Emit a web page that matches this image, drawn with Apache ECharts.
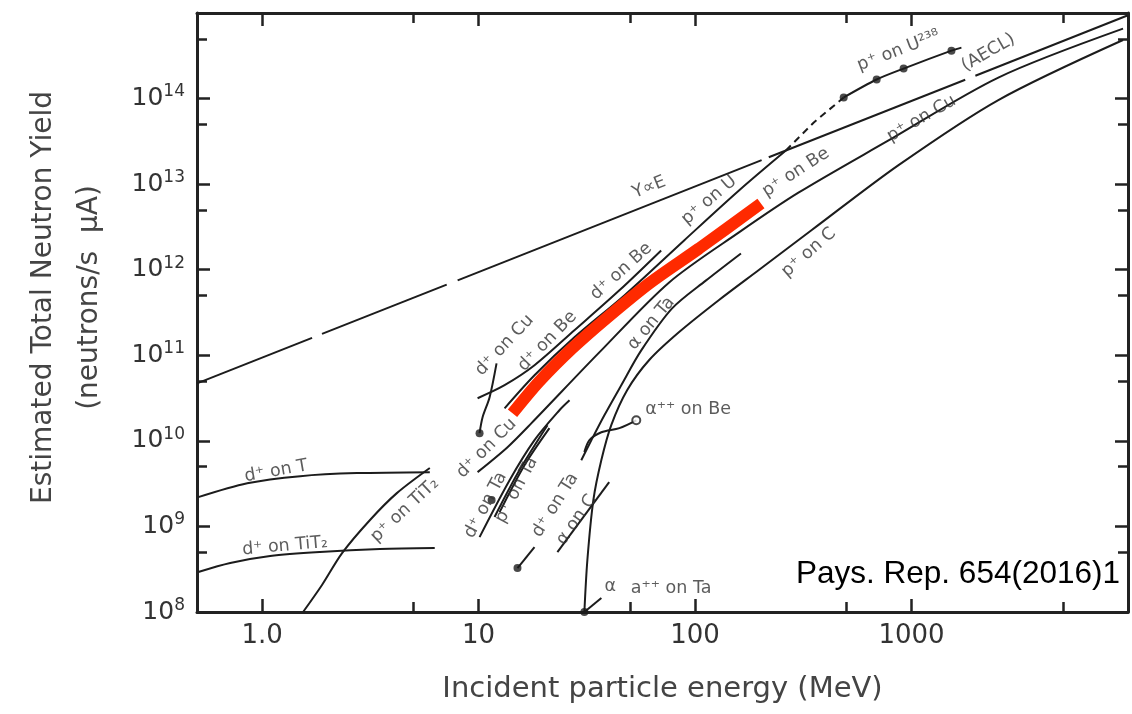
<!DOCTYPE html>
<html>
<head>
<meta charset="utf-8">
<script src="https://cdn.jsdelivr.net/npm/echarts@6/dist/echarts.min.js"></script>
<style>
  html, body { margin: 0; padding: 0; background: #fff; }
  #chart { width: 1132px; height: 714px; }
</style>
</head>
<body>
<div id="chart"></div>
<script>
// x = incident particle energy (MeV), y = neutron yield (n/s per uA)
const xMajor = [1, 10, 100, 1000];
const xTickText = ['1.0', '10', '100', '1000'];
const xMinor = [5, 50, 500, 5000];
const yMajor = [1e8, 1e9, 1e10, 1e11, 1e12, 1e13, 1e14];
const yMinor = [5e8, 5e9, 5e10, 5e11, 5e12, 5e13, 5e14];

const dOnT = [[0.507, 2.2e9], [0.853, 3.2e9], [1.5, 3.87e9], [2.74, 4.2e9], [5.95, 4.31e9]];
const dOnTiT2 = [[0.507, 2.93e8], [0.712, 3.74e8], [1.089, 4.51e8], [1.85, 5.03e8], [3.5, 5.45e8], [6.27, 5.6e8]];
const pOnTiT2 = [[1.545, 1e8], [1.89, 2.07e8], [2.34, 4.88e8], [3.15, 1.19e9], [4.19, 2.45e9], [5.95, 4.82e9]];

// Y proportional to E, drawn as broken pieces like the original
const yPropE = [
  [[0.5, 4.7e10], [1.70, 1.6e11]],
  [[1.89, 1.78e11], [7.12, 6.7e11]],
  [[8.0, 7.5e11], [203, 1.91e13]],
  [[219, 2.06e13], [1770, 1.66e14]],
  [[1972, 1.85e14], [10000, 9.4e14]]
];

const pOnU = [[13.18, 2.4e10], [18.12, 5.84e10], [27.7, 1.62e11], [47.1, 5.01e11], [89, 2.2e12], [159.5, 8.43e12], [262.7, 2.47e13]];
const pOnUDash = [[262.7, 2.47e13], [353.5, 5.25e13], [486, 1.03e14]];
const pOnU238 = [[486, 1.03e14], [690, 1.67e14], [919, 2.24e14], [1529, 3.63e14], [1700, 3.94e14]];
const dOnBe = [[9.89, 3.15e10], [13.18, 4.47e10], [18.12, 7.64e10], [27.7, 1.96e11], [44.7, 5.74e11], [69.7, 1.68e12]];
const dOnCuLow = [[10.1, 1.23e10], [10.43, 1.89e10], [11.24, 3.24e10], [12.1, 8.05e10]];
const pOnBe = [[9.89, 4.31e9], [13.6, 8.43e9], [17.55, 1.61e10], [36.1, 1.08e11], [75.9, 7.11e11], [159.5, 2.73e12], [301.5, 8.0e12], [783, 3.24e13], [2518, 1.76e14], [9485, 6.56e14]];
const dOnTa = [[10.1, 7.5e8], [13.9, 3.47e9], [18.12, 1.02e10], [23.62, 2.28e10], [26.3, 2.98e10]];
const pOnTa = [[11.85, 1.29e9], [15.45, 4.55e9], [20.8, 1.52e10]];
const pOnTa2 = [[12.5, 1.47e9], [16.29, 5.2e9], [21.24, 1.41e10]];
const dOnTaShort = [[15.12, 3.26e8], [18.12, 5.74e8]];
const aOnC = [[23.12, 5.0e8], [40.1, 3.29e9]];
const pOnC = [[30.8, 1e8], [31.8, 4.05e8], [33.9, 2.04e9], [36.9, 5.97e9], [41.0, 1.53e10], [48.6, 3.93e10], [61.4, 8.81e10], [84.4, 1.87e11], [129, 4.43e11], [197, 9.93e11], [346, 2.91e12], [871, 1.67e13], [2518, 9.62e13], [9485, 4.84e14]];
const aOnTa = [[29.8, 5.94e9], [33.2, 1.02e10], [38.1, 1.99e10], [45.6, 4.47e10], [56.4, 1.14e11], [78.3, 3.53e11], [112.4, 7.5e11], [162.9, 1.55e12]];
const aOnBe = [[30.8, 7.38e9], [32.5, 1.02e10], [36.9, 1.26e10], [44.7, 1.41e10], [53.5, 1.74e10]];
const alphaTick = [[30.8, 1e8], [36.9, 1.46e8]];
// red highlight drawn over the figure
const highlight = [[14.34, 2.1e10], [19.1, 4.97e10], [27.12, 1.21e11], [38.9, 2.7e11], [61.4, 6.92e11], [104.3, 1.77e12], [201.5, 5.94e12]];

const dots = [[486, 1.03e14], [690, 1.67e14], [919, 2.24e14], [1529, 3.63e14], [10.1, 1.23e10], [11.48, 2.03e9], [15.12, 3.26e8], [30.8, 1e8]];
const openDots = [[53.5, 1.74e10]];

const labelText = ['Y∝E', 'p⁺ on U', 'p⁺ on Be', 'p⁺ on U²³⁸', '(AECL)', 'p⁺ on Cu', 'p⁺ on C', 'd⁺ on Be', 'd⁺ on Be', 'd⁺ on Cu', 'd⁺ on Cu', 'α on Ta', 'α⁺⁺ on Be', 'd⁺ on Ta', 'p⁺ on Ta', 'd⁺ on Ta', 'α on C', 'α', 'a⁺⁺ on Ta', 'd⁺ on T', 'd⁺ on TiT₂', 'p⁺ on TiT₂'];
const labelAt = [[61.4, 9.14e12], [116, 6.46e12], [292, 1.37e13], [871, 3.63e14], [2264, 3.44e14], [1112, 5.84e13], [335, 1.59e12], [45.6, 9.55e11], [20.8, 1.46e11], [13.18, 1.31e11], [10.89, 8.2e9], [62.7, 2.36e11], [92.8, 2.34e10], [10.77, 1.77e9], [14.96, 2.66e9], [22.6, 1.77e9], [28.3, 1.19e9], [40.6, 2.01e8], [77.5, 1.86e8], [1.16, 4.43e9], [1.276, 5.89e8], [4.56, 1.55e9]];
const labelAngle = [22, 40, 33, 21, 30, 30, 41, 42, 46, 47, 45, 50, 0, 62, 62, 58, 55, 0, 0, 10, 5, 43];

const ink = '#1c1c1c';
const font = 'DejaVu Sans';

function curve(data, extra) {
  return Object.assign({
    type: 'line',
    data: data,
    symbol: 'none',
    smooth: 0.3,
    silent: true,
    lineStyle: { color: ink, width: 2 }
  }, extra || {});
}

const series = [
  curve(dOnT), curve(dOnTiT2), curve(pOnTiT2),
  curve(pOnU), curve(pOnUDash, { smooth: false, lineStyle: { color: ink, width: 2, type: [7, 5] } }),
  curve(pOnU238), curve(dOnBe), curve(dOnCuLow), curve(pOnBe),
  curve(dOnTa), curve(pOnTa), curve(pOnTa2), curve(dOnTaShort, { smooth: false }),
  curve(aOnC, { smooth: false }), curve(pOnC), curve(aOnTa), curve(aOnBe),
  curve(alphaTick, { smooth: false, clip: false })
];
yPropE.forEach(seg => series.push(curve(seg, { smooth: false })));
series.push(curve(highlight, { z: 5, lineStyle: { color: '#ff2a00', width: 12, cap: 'butt' } }));
series.push({
  type: 'scatter', data: dots, symbolSize: 8, clip: false, silent: true, z: 4,
  itemStyle: { color: ink }
});
series.push({
  type: 'scatter', data: openDots, symbolSize: 8, silent: true, z: 4,
  itemStyle: { color: '#fff', borderColor: ink, borderWidth: 2 }
});
series.push({
  type: 'scatter', symbolSize: 0, silent: true, z: 6,
  data: labelAt.map((p, i) => ({ value: p, label: { formatter: labelText[i], rotate: labelAngle[i] } })),
  label: { show: true, position: 'inside', fontSize: 17.5, color: '#333', fontFamily: font }
});

const axisLine = { show: true, onZero: false, lineStyle: { color: '#222', width: 3 } };
const tickStyle = { color: '#222', width: 2.5 };
const xBase = { type: 'log', logBase: 10, min: 0.5, max: 10000, splitLine: { show: false }, axisLine: { show: false }, axisLabel: { show: false } };
const yBase = { type: 'log', logBase: 10, min: 1e8, max: 1e15, splitLine: { show: false }, axisLine: { show: false }, axisLabel: { show: false } };

function nearIndex(list, v) {
  return list.findIndex(m => Math.abs(Math.log10(m) - Math.log10(v)) < 0.01);
}

const option = {
  animation: false,
  textStyle: { fontFamily: font },
  grid: { left: 197, right: 4, top: 13, bottom: 102 },
  xAxis: [
    Object.assign({}, xBase, {
      position: 'bottom', axisLine: axisLine,
      axisTick: { show: true, inside: true, length: 13, lineStyle: tickStyle, customValues: xMajor },
      axisLabel: {
        show: true, customValues: xMajor, fontSize: 26, color: '#333', margin: 11,
        formatter: v => xTickText[nearIndex(xMajor, v)]
      },
      name: 'Incident particle energy (MeV)', nameLocation: 'middle', nameGap: 63,
      nameTextStyle: { fontSize: 29, color: '#444' }
    }),
    Object.assign({}, xBase, { position: 'bottom', axisTick: { show: true, inside: true, length: 10, lineStyle: tickStyle, customValues: xMinor } }),
    Object.assign({}, xBase, { position: 'top', axisLine: axisLine, axisTick: { show: true, inside: true, length: 13, lineStyle: tickStyle, customValues: xMajor } }),
    Object.assign({}, xBase, { position: 'top', axisTick: { show: true, inside: true, length: 10, lineStyle: tickStyle, customValues: xMinor } })
  ],
  yAxis: [
    Object.assign({}, yBase, {
      position: 'left', axisLine: axisLine,
      axisTick: { show: true, inside: true, length: 13, lineStyle: tickStyle, customValues: yMajor },
      axisLabel: {
        show: true, customValues: yMajor, margin: 12,
        formatter: v => '{b|10}{e|' + Math.round(Math.log10(v)) + '}',
        rich: {
          b: { fontSize: 25, color: '#333', lineHeight: 30, fontFamily: font },
          e: { fontSize: 17, color: '#333', lineHeight: 18, verticalAlign: 'top', fontFamily: font }
        }
      },
      name: 'Estimated Total Neutron Yield\n(neutrons/s  μA)', nameLocation: 'middle', nameGap: 84,
      nameTextStyle: { fontSize: 28, color: '#444', lineHeight: 46, padding: [0, 0, 0, 30] }
    }),
    Object.assign({}, yBase, { position: 'left', axisTick: { show: true, inside: true, length: 10, lineStyle: tickStyle, customValues: yMinor } }),
    Object.assign({}, yBase, { position: 'right', axisLine: axisLine, axisTick: { show: true, inside: true, length: 13, lineStyle: tickStyle, customValues: yMajor } }),
    Object.assign({}, yBase, { position: 'right', axisTick: { show: true, inside: true, length: 10, lineStyle: tickStyle, customValues: yMinor } })
  ],
  graphic: [{
    type: 'text', right: 12, top: 558,
    style: { text: 'Pays. Rep. 654(2016)1', font: '31.5px "Liberation Sans"', fill: '#000' }
  }],
  series: series
};

const chart = echarts.init(document.getElementById('chart'));
chart.setOption(option);
</script>
</body>
</html>
